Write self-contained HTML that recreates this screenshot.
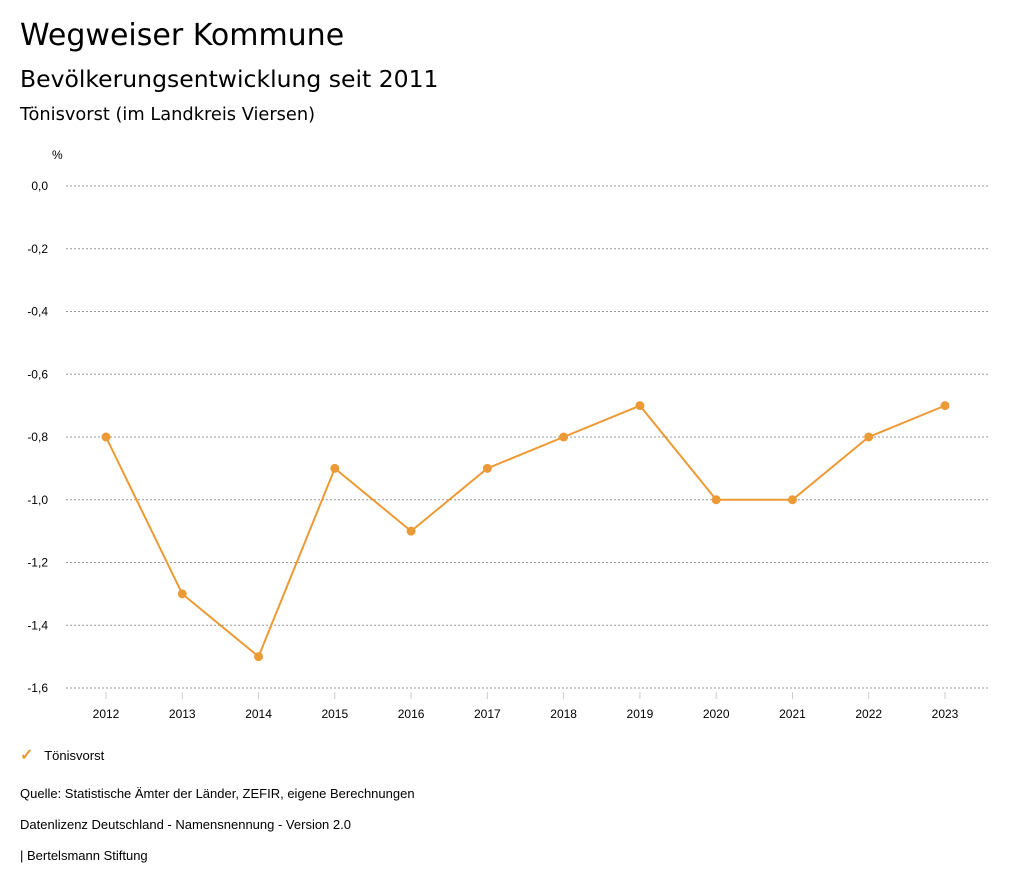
<!DOCTYPE html>
<html><head><meta charset="utf-8"><style>
body{margin:0;background:#fff;width:1024px;height:888px;overflow:hidden;font-family:"Liberation Sans",sans-serif;color:#000}
.t{position:absolute;left:20px;white-space:nowrap}
.h{font-family:"DejaVu Sans",sans-serif}
</style></head><body>
<div class="t h" style="top:18px;font-size:30px">Wegweiser Kommune</div>
<div class="t h" style="top:65px;font-size:23.5px">Bevölkerungsentwicklung seit 2011</div>
<div class="t h" style="top:104px;font-size:17.8px">Tönisvorst (im Landkreis Viersen)</div>
<svg id="chart" width="1024" height="888" style="position:absolute;left:0;top:0;font-family:'Liberation Sans',sans-serif"></svg>
<div class="t" style="top:745px;font-size:13px"><span style="color:#ec9a35;font-size:16px;font-weight:bold">✓</span>&nbsp;&nbsp;&nbsp;Tönisvorst</div>
<div class="t" style="top:786px;font-size:13px">Quelle: Statistische Ämter der Länder, ZEFIR, eigene Berechnungen</div>
<div class="t" style="top:817px;font-size:13px">Datenlizenz Deutschland - Namensnennung - Version 2.0</div>
<div class="t" style="top:848px;font-size:13px">| Bertelsmann Stiftung</div>
<script>
const years=["2012","2013","2014","2015","2016","2017","2018","2019","2020","2021","2022","2023"];
const values=[-0.8,-1.3,-1.5,-0.9,-1.1,-0.9,-0.8,-0.7,-1.0,-1.0,-0.8,-0.7];
const yTicks=[0,-0.2,-0.4,-0.6,-0.8,-1.0,-1.2,-1.4,-1.6];
const svg=document.getElementById('chart');const NS='http://www.w3.org/2000/svg';
function y(v){return 186+(0-v)/1.6*502;}
function x(i){return 106+i*(945-106)/(years.length-1);}
function mk(t,a,txt){const e=document.createElementNS(NS,t);for(const k in a)e.setAttribute(k,a[k]);if(txt!==undefined)e.textContent=txt;svg.appendChild(e);return e;}
let u=mk('text',{x:52,y:159,'font-size':12},'%');


yTicks.forEach(v=>{
 let g=mk('line',{x1:66,x2:990,y1:y(v),y2:y(v),stroke:'#999','stroke-dasharray':'2,2','stroke-width':1});
 
 
 let t=mk('text',{x:48,y:y(v)+4,'font-size':12,'text-anchor':'end'},v.toFixed(1).replace('.',','));
 
 
});
years.forEach((yr,i)=>{
 let tk=mk('line',{x1:x(i),x2:x(i),y1:692,y2:699,stroke:'#ccc'});
 
 
 let t=mk('text',{x:x(i),y:718,'font-size':12,'text-anchor':'middle'},yr);
 
 
});
let p=mk('polyline',{points:values.map((v,i)=>x(i)+','+y(v)).join(' '),fill:'none',stroke:'#ec9a35','stroke-width':2});


values.forEach((v,i)=>{
 let c=mk('circle',{cx:x(i),cy:y(v),r:4.5,fill:'#ec9a35'});
 
 
});
</script>
</body></html>
